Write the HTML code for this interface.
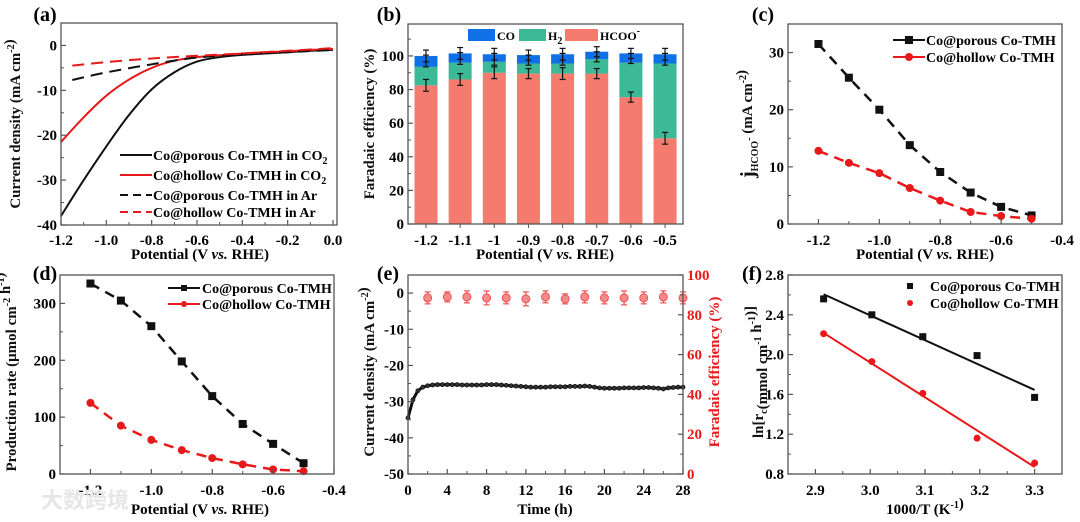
<!DOCTYPE html>
<html><head><meta charset="utf-8">
<style>
html,body{margin:0;padding:0;background:#fff;}
svg{display:block;font-family:"Liberation Serif","Noto Serif CJK SC",serif;font-weight:bold;}
</style></head>
<body>
<svg id="fig" width="1080" height="522" viewBox="0 0 1080 522" xmlns="http://www.w3.org/2000/svg"></svg>
<script>
// ---- (a) LSV data
const aX = [-1.2,-1.1,-1.0,-0.9,-0.8,-0.7,-0.6,-0.5,-0.4,-0.3,-0.2,-0.1,0.0];
const aPorousCO2 = [-38,-30,-22.5,-15.5,-9.8,-6.0,-3.6,-2.6,-2.1,-1.8,-1.5,-1.2,-1.0];
const aHollowCO2 = [-21.5,-16,-11.2,-7.6,-5.0,-3.4,-2.6,-2.2,-1.8,-1.5,-1.3,-1.0,-0.8];
const aXAr = [-1.15,-1.0,-0.8,-0.6,-0.4,-0.2,0.0];
const aPorousAr = [-7.7,-6.0,-4.2,-2.7,-2.0,-1.5,-1.0];
const aHollowAr = [-4.5,-3.7,-2.9,-2.3,-1.8,-1.2,-0.6];
// ---- (b) FE data
const bCats = ["-1.2","-1.1","-1","-0.9","-0.8","-0.7","-0.6","-0.5"];
const bHCOO = [82.5,86,90,89.5,89.5,89.5,75.5,51];
const bH2 = [11,10,6.5,6,6,8.5,20.5,44.5];
const bCO = [6.5,5.5,4.5,5,5.5,4.5,5.5,5.5];
const bErr = [3.5,3.5,3.5,3,3.5,3,3,3.5];
// ---- (c)
const cX = [-1.2,-1.1,-1.0,-0.9,-0.8,-0.7,-0.6,-0.5];
const cPorous = [31.5,25.6,20,13.8,9.1,5.5,3,1.5];
const cHollow = [12.8,10.7,8.9,6.3,4.1,2.1,1.4,0.9];
// ---- (d)
const dPorous = [335,305,260,198,137,88,53,19];
const dHollow = [125,85,60,42,28,17,8,5];
// ---- (e)
const eCurrent = [-34.5,-29.5,-27,-26,-25.6,-25.4,-25.3,-25.3,-25.3,-25.3,-25.3,-25.4,-25.4,-25.4,-25.4,-25.4,-25.3,-25.3,-25.3,-25.4,-25.5,-25.6,-25.7,-25.8,-25.9,-26,-26,-26,-26,-25.9,-25.9,-25.9,-25.9,-25.8,-25.8,-25.8,-25.7,-25.8,-26,-26.2,-26.3,-26.3,-26.3,-26.3,-26.2,-26.2,-26.2,-26.2,-26.1,-26.1,-26.2,-26.3,-26.5,-26.2,-26.1,-26,-26];
const eTimes = [2,4,6,8,10,12,14,16,18,20,22,24,26,28];
const eFE = [88.5,89,89,88.5,88.5,88,89,88,89,88.5,88.5,88.5,89,88.5];
const eFEerr = [3,2.5,3,3.5,3,3.5,3,2.5,3,3,3.5,3,3,3];
// ---- (f)
const fX = [2.915,3.003,3.096,3.195,3.3];
const fPorous = [2.56,2.40,2.18,1.99,1.57];
const fHollow = [2.21,1.93,1.61,1.16,0.91];

const NS = "http://www.w3.org/2000/svg";
const svg = document.getElementById('fig');
function mk(tag, attrs, parent, name){
  const el = document.createElementNS(NS, tag);
  for (const k in attrs) el.setAttribute(k, attrs[k]);
  
  
  (parent||svg).appendChild(el);
  return el;
}
function txt(x,y,s,size,anchor,parent,name,extra){
  const t = mk('text', Object.assign({x:x,y:y,'font-size':size,'text-anchor':anchor||'middle'}, extra||{}), parent, name);
  t.innerHTML = s;
  return t;
}
function scale(d0,d1,p0,p1){ return v => p0 + (v-d0)/(d1-d0)*(p1-p0); }
const TF = 15;
function frame(g, L,R,T,B, name){
  mk('rect',{x:L,y:T,width:R-L,height:B-T,fill:'none',stroke:'#555','stroke-width':1.3},g,name);
}
function xTicks(g, sx, vals, labels, T, B, minor, ly){
  vals.forEach((v,i)=>{
    const x = sx(v);
    mk('line',{x1:x,x2:x,y1:B,y2:B-5,stroke:'#555','stroke-width':1.2},g,'x-tick');
    if(labels[i]!==null) txt(x, ly, labels[i], TF, 'middle', g, 'x-tick-label');
  });
  (minor||[]).forEach(v=>{
    const x = sx(v);
    mk('line',{x1:x,x2:x,y1:B,y2:B-3,stroke:'#555','stroke-width':1},g,'x-minor-tick');
  });
}
function yTicks(g, sy, vals, labels, L, minor, side, color){
  const dir = side==='right' ? -1 : 1;
  vals.forEach((v,i)=>{
    const y = sy(v);
    mk('line',{x1:L,x2:L+5*dir,y1:y,y2:y,stroke:'#555','stroke-width':1.2},g,'y-tick');
    txt(side==='right'? L+4 : L-4, y+5, labels[i], TF, side==='right'?'start':'end', g, 'y-tick-label', color?{fill:color}:{});
  });
  (minor||[]).forEach(v=>{
    const y = sy(v);
    mk('line',{x1:L,x2:L+3*dir,y1:y,y2:y,stroke:'#555','stroke-width':1},g,'y-minor-tick');
  });
}
function ytitle(g,x,y,html,name,color,size){
  const t = mk('text',{x:0,y:0,'font-size':size||15,'text-anchor':'middle',transform:`translate(${x},${y}) rotate(-90)`,fill:color||'#111'},g,name);
  t.innerHTML = html;
}
function poly(g, xs, ys, sx, sy, attrs, name){
  const pts = xs.map((x,i)=>sx(x).toFixed(1)+','+sy(ys[i]).toFixed(1)).join(' ');
  return mk('polyline', Object.assign({points:pts,fill:'none'},attrs), g, name);
}
function smooth(g, xs, ys, sx, sy, attrs, name){
  const p = xs.map((x,i)=>[sx(x),sy(ys[i])]);
  let d = 'M'+p[0][0].toFixed(1)+','+p[0][1].toFixed(1);
  for(let i=0;i<p.length-1;i++){
    const p0=p[i-1]||p[i], p1=p[i], p2=p[i+1], p3=p[i+2]||p2;
    const c1=[p1[0]+(p2[0]-p0[0])/6, p1[1]+(p2[1]-p0[1])/6];
    const c2=[p2[0]-(p3[0]-p1[0])/6, p2[1]-(p3[1]-p1[1])/6];
    d += ` C${c1[0].toFixed(1)},${c1[1].toFixed(1)} ${c2[0].toFixed(1)},${c2[1].toFixed(1)} ${p2[0].toFixed(1)},${p2[1].toFixed(1)}`;
  }
  return mk('path', Object.assign({d:d,fill:'none'},attrs), g, name);
}
const SUP = s => `<tspan dy="-6" font-size="10">${s}</tspan><tspan dy="6"></tspan>`;
const SUB = s => `<tspan dy="4" font-size="10">${s}</tspan><tspan dy="-4"></tspan>`;

// ================= (a)
(function(){
  const g = mk('g',{},svg,'panel-a');
  const L=61,R=337,T=23,B=225;
  const sx = scale(-1.2,0,L,333), sy = scale(5,-40,T,B);
  smooth(g,aX,aPorousCO2,sx,sy,{stroke:'#111','stroke-width':2},'line-porous-co2');
  smooth(g,aX,aHollowCO2,sx,sy,{stroke:'#e8191a','stroke-width':2},'line-hollow-co2');
  smooth(g,aXAr,aPorousAr,sx,sy,{stroke:'#111','stroke-width':2,'stroke-dasharray':'12,7'},'line-porous-ar');
  smooth(g,aXAr,aHollowAr,sx,sy,{stroke:'#e8191a','stroke-width':2,'stroke-dasharray':'12,7'},'line-hollow-ar');
  frame(g,L,R,T,B,'plot-frame-a');
  xTicks(g,sx,[-1.2,-1.0,-0.8,-0.6,-0.4,-0.2,0],['-1.2','-1.0','-0.8','-0.6','-0.4','-0.2','0.0'],T,B,[-1.1,-0.9,-0.7,-0.5,-0.3,-0.1],245);
  yTicks(g,sy,[0,-10,-20,-30,-40],['0','-10','-20','-30','-40'],L,[-5,-15,-25,-35]);
  ytitle(g,20,124,'Current density (mA cm'+SUP('-2')+')','y-axis-title-a');
  txt(200,259,'Potential (V <tspan font-style="italic">vs.</tspan> RHE)',15,'middle',g,'x-axis-title-a');
  txt(45,21,'(a)',20,'middle',g,'panel-label-a');
  const leg = [['#111',null,'Co@porous Co-TMH in CO'+SUB('2')],['#e8191a',null,'Co@hollow Co-TMH in CO'+SUB('2')],['#111','8,5','Co@porous Co-TMH in Ar'],['#e8191a','8,5','Co@hollow Co-TMH in Ar']];
  leg.forEach((e,i)=>{
    const y=[155,175,195,212][i];
    const a={x1:120,x2:152,y1:y,y2:y,stroke:e[0],'stroke-width':2};
    if(e[1]) a['stroke-dasharray']=e[1];
    mk('line',a,g,'legend-line');
    txt(153,y+5,e[2],14,'start',g,'legend-entry');
  });
})();

// ================= (b)
(function(){
  const g = mk('g',{},svg,'panel-b');
  const L=408,R=683,T=24,B=224;
  const sx = i => 426 + i*34.15, sy = scale(0,119,B,T);
  const w=23;
  bCats.forEach((c,i)=>{
    const x=sx(i)-w/2;
    const h1=bHCOO[i], h2=h1+bH2[i], h3=h2+bCO[i];
    mk('rect',{x:x,y:sy(h1),width:w,height:sy(0)-sy(h1),fill:'#f47b6d'},g,'bar-hcoo');
    mk('rect',{x:x,y:sy(h2),width:w,height:sy(h1)-sy(h2),fill:'#3cb996'},g,'bar-h2');
    mk('rect',{x:x,y:sy(h3),width:w,height:sy(h2)-sy(h3),fill:'#1070e6'},g,'bar-co');
    [h1, h3-3, h3].forEach(v=>{
      const cx=sx(i);
      mk('line',{x1:cx,x2:cx,y1:sy(v+bErr[i]),y2:sy(v-bErr[i]),stroke:'#111','stroke-width':1.2},g,'error-bar');
      mk('line',{x1:cx-3,x2:cx+3,y1:sy(v+bErr[i]),y2:sy(v+bErr[i]),stroke:'#111','stroke-width':1.2},g,'error-cap');
      mk('line',{x1:cx-3,x2:cx+3,y1:sy(v-bErr[i]),y2:sy(v-bErr[i]),stroke:'#111','stroke-width':1.2},g,'error-cap');
    });
  });
  frame(g,L,R,T,B,'plot-frame-b');
  bCats.forEach((c,i)=>{
    mk('line',{x1:sx(i),x2:sx(i),y1:B,y2:B+4,stroke:'#555'},g,'x-tick');
    txt(sx(i),245,c,TF,'middle',g,'x-tick-label');
  });
  yTicks(g,sy,[0,20,40,60,80,100],['0','20','40','60','80','100'],L,[10,30,50,70,90,110]);
  ytitle(g,374,124,'Faradaic efficiency (%)','y-axis-title-b');
  txt(545,259,'Potential (V <tspan font-style="italic">vs.</tspan> RHE)',15,'middle',g,'x-axis-title-b');
  txt(389,21,'(b)',20,'middle',g,'panel-label-b');
  mk('rect',{x:468,y:29,width:27,height:12,fill:'#1070e6'},g,'legend-swatch-co');
  txt(497,40,'CO',12,'start',g,'legend-entry-co');
  mk('rect',{x:519,y:29,width:27,height:12,fill:'#3cb996'},g,'legend-swatch-h2');
  txt(548,40,'H'+SUB('2'),12,'start',g,'legend-entry-h2');
  mk('rect',{x:565,y:29,width:33,height:12,fill:'#f47b6d'},g,'legend-swatch-hcoo');
  txt(600,40,'HCOO'+SUP('-'),12,'start',g,'legend-entry-hcoo');
})();

function markerSeries(g,xs,ys,sx,sy,color,shape,name){
  xs.forEach((x,i)=>{
    if(shape==='sq') mk('rect',{x:sx(x)-4,y:sy(ys[i])-4,width:8,height:8,fill:color},g,name+'-point');
    else mk('circle',{cx:sx(x),cy:sy(ys[i]),r:4,fill:color},g,name+'-point');
  });
}

// ================= (c)
(function(){
  const g = mk('g',{},svg,'panel-c');
  const L=788,R=1062,T=24,B=224;
  const sx = scale(-1.3,-0.4,L,R), sy = scale(0,35,B,T);
  poly(g,cX,cPorous,sx,sy,{stroke:'#111','stroke-width':2.5,'stroke-dasharray':'10,7'},'line-porous');
  poly(g,cX,cHollow,sx,sy,{stroke:'#e8191a','stroke-width':2.5,'stroke-dasharray':'10,7'},'line-hollow');
  markerSeries(g,cX,cPorous,sx,sy,'#111','sq','porous');
  markerSeries(g,cX,cHollow,sx,sy,'#e8191a','ci','hollow');
  frame(g,L,R,T,B,'plot-frame-c');
  xTicks(g,sx,[-1.2,-1.0,-0.8,-0.6,-0.4],['-1.2','-1.0','-0.8','-0.6','-0.4'],T,B,[-1.1,-0.9,-0.7,-0.5],245);
  yTicks(g,sy,[0,10,20,30],['0','10','20','30'],L,[5,15,25,35]);
  ytitle(g,754,124,'<tspan font-size="20">j</tspan>'+SUB('HCOO')+SUP('-')+' (mA cm'+SUP('-2')+')','y-axis-title-c');
  txt(925,259,'Potential (V <tspan font-style="italic">vs.</tspan> RHE)',15,'middle',g,'x-axis-title-c');
  txt(763,21,'(c)',20,'middle',g,'panel-label-c');
  mk('line',{x1:893,x2:925,y1:40,y2:40,stroke:'#111','stroke-width':2},g,'legend-line');
  mk('rect',{x:905,y:36,width:8,height:8,fill:'#111'},g,'legend-marker');
  txt(926,45,'Co@porous Co-TMH',14,'start',g,'legend-entry-porous');
  mk('line',{x1:893,x2:925,y1:57,y2:57,stroke:'#e8191a','stroke-width':2},g,'legend-line');
  mk('circle',{cx:909,cy:57,r:4,fill:'#e8191a'},g,'legend-marker');
  txt(926,62,'Co@hollow Co-TMH',14,'start',g,'legend-entry-hollow');
})();

// ================= (d)
(function(){
  const g = mk('g',{},svg,'panel-d');
  const L=60,R=334,T=275,B=474;
  const sx = scale(-1.3,-0.4,L,R), sy = scale(0,350,B,T);
  poly(g,cX,dPorous,sx,sy,{stroke:'#111','stroke-width':2.5,'stroke-dasharray':'10,7'},'line-porous');
  poly(g,cX,dHollow,sx,sy,{stroke:'#e8191a','stroke-width':2.5,'stroke-dasharray':'10,7'},'line-hollow');
  markerSeries(g,cX,dPorous,sx,sy,'#111','sq','porous');
  markerSeries(g,cX,dHollow,sx,sy,'#e8191a','ci','hollow');
  frame(g,L,R,T,B,'plot-frame-d');
  xTicks(g,sx,[-1.2,-1.0,-0.8,-0.6,-0.4],['-1.2','-1.0','-0.8','-0.6','-0.4'],T,B,[-1.1,-0.9,-0.7,-0.5],495);
  yTicks(g,sy,[0,100,200,300],['0','100','200','300'],L,[50,150,250,350]);
  ytitle(g,16,372,'Production rate (μmol cm'+SUP('-2')+' h'+SUP('-1')+')','y-axis-title-d');
  txt(200,514,'Potential (V <tspan font-style="italic">vs.</tspan> RHE)',15,'middle',g,'x-axis-title-d');
  txt(45,280,'(d)',20,'middle',g,'panel-label-d');
  mk('line',{x1:168,x2:200,y1:288,y2:288,stroke:'#111','stroke-width':2},g,'legend-line');
  mk('rect',{x:181,y:285,width:6,height:6,fill:'#111'},g,'legend-marker');
  txt(202,293,'Co@porous Co-TMH',14,'start',g,'legend-entry-porous');
  mk('line',{x1:168,x2:200,y1:304,y2:304,stroke:'#e8191a','stroke-width':2},g,'legend-line');
  mk('circle',{cx:184,cy:304,r:3,fill:'#e8191a'},g,'legend-marker');
  txt(202,309,'Co@hollow Co-TMH',14,'start',g,'legend-entry-hollow');
  txt(85,508,'大数跨境',22,'middle',g,'watermark',{fill:'#e6e6e6','font-family':'"Noto Sans CJK SC",sans-serif'});
})();

// ================= (e)
(function(){
  const g = mk('g',{},svg,'panel-e');
  const L=408,R=683,T=275,B=474;
  const sx = scale(0,28,L,R), sy = scale(5,-50,T,B), sy2 = scale(0,100,B,T);
  const ts = eCurrent.map((v,i)=>i*0.5);
  poly(g,ts,eCurrent,sx,sy,{stroke:'#111','stroke-width':3},'line-current');
  ts.forEach((t,i)=>{
    mk('circle',{cx:sx(t),cy:sy(eCurrent[i]),r:2,fill:'#333',stroke:'#111','stroke-width':0.8},g,'current-point');
  });
  eTimes.forEach((t,i)=>{
    const x=sx(t), v=eFE[i], e=eFEerr[i];
    mk('line',{x1:x,x2:x,y1:sy2(v+e),y2:sy2(v-e),stroke:'#f05050','stroke-width':1.2},g,'fe-error-bar');
    mk('line',{x1:x-3,x2:x+3,y1:sy2(v+e),y2:sy2(v+e),stroke:'#f05050','stroke-width':1.2},g,'fe-error-cap');
    mk('line',{x1:x-3,x2:x+3,y1:sy2(v-e),y2:sy2(v-e),stroke:'#f05050','stroke-width':1.2},g,'fe-error-cap');
    mk('circle',{cx:x,cy:sy2(v),r:4,fill:'#f58a8a',stroke:'#f05050','stroke-width':1},g,'fe-point');
  });
  frame(g,L,R,T,B,'plot-frame-e');
  xTicks(g,sx,[0,4,8,12,16,20,24,28],['0','4','8','12','16','20','24','28'],T,B,[2,6,10,14,18,22,26],495);
  yTicks(g,sy,[0,-10,-20,-30,-40,-50],['0','-10','-20','-30','-40','-50'],L,[-5,-15,-25,-35,-45]);
  yTicks(g,sy2,[0,20,40,60,80,100],['0','20','40','60','80','100'],R,[10,30,50,70,90],'right','#e8191a');
  ytitle(g,374,372,'Current density (mA cm'+SUP('-2')+')','y-axis-title-e-left');
  ytitle(g,719,372,'Faradaic efficiency (%)','y-axis-title-e-right','#e8191a');
  txt(545,514,'Time (h)',15,'middle',g,'x-axis-title-e');
  txt(388,280,'(e)',20,'middle',g,'panel-label-e');
})();

// ================= (f)
(function(){
  const g = mk('g',{},svg,'panel-f');
  const L=788,R=1062,T=275,B=474;
  const sx = scale(2.85,3.35,L,R), sy = scale(0.8,2.8,B,T);
  function fit(xs,ys){
    const n=xs.length, mx=xs.reduce((a,b)=>a+b)/n, my=ys.reduce((a,b)=>a+b)/n;
    let sxy=0,sxx=0; xs.forEach((x,i)=>{sxy+=(x-mx)*(ys[i]-my); sxx+=(x-mx)*(x-mx);});
    const m=sxy/sxx; return x=>my+m*(x-mx);
  }
  const fp=fit(fX,fPorous), fh=fit(fX,fHollow);
  mk('line',{x1:sx(2.915),y1:sy(fp(2.915)),x2:sx(3.3),y2:sy(fp(3.3)),stroke:'#111','stroke-width':2},g,'fit-line-porous');
  mk('line',{x1:sx(2.915),y1:sy(fh(2.915)),x2:sx(3.3),y2:sy(fh(3.3)),stroke:'#e8191a','stroke-width':2},g,'fit-line-hollow');
  fX.forEach((x,i)=>{
    mk('rect',{x:sx(x)-3.5,y:sy(fPorous[i])-3.5,width:7,height:7,fill:'#111'},g,'porous-point');
    mk('circle',{cx:sx(x),cy:sy(fHollow[i]),r:3.5,fill:'#e8191a'},g,'hollow-point');
  });
  frame(g,L,R,T,B,'plot-frame-f');
  xTicks(g,sx,[2.9,3.0,3.1,3.2,3.3],['2.9','3.0','3.1','3.2','3.3'],T,B,[2.95,3.05,3.15,3.25],495);
  yTicks(g,sy,[0.8,1.2,1.6,2.0,2.4,2.8],['0.8','1.2','1.6','2.0','2.4','2.8'],L,[1.0,1.4,1.8,2.2,2.6]);
  ytitle(g,763,372,'ln[r'+SUB('c')+'(mmol cm'+SUP('-1')+' h'+SUP('-1')+')]','y-axis-title-f');
  txt(925,514,'1000/T (K'+SUP('-1')+')',15,'middle',g,'x-axis-title-f');
  txt(752,280,'(f)',20,'middle',g,'panel-label-f');
  mk('rect',{x:907,y:283,width:6,height:6,fill:'#111'},g,'legend-marker');
  txt(930,291,'Co@porous Co-TMH',14,'start',g,'legend-entry-porous');
  mk('circle',{cx:910,cy:303,r:3,fill:'#e8191a'},g,'legend-marker');
  txt(930,308,'Co@hollow Co-TMH',14,'start',g,'legend-entry-hollow');
})();
</script>
</body></html>
